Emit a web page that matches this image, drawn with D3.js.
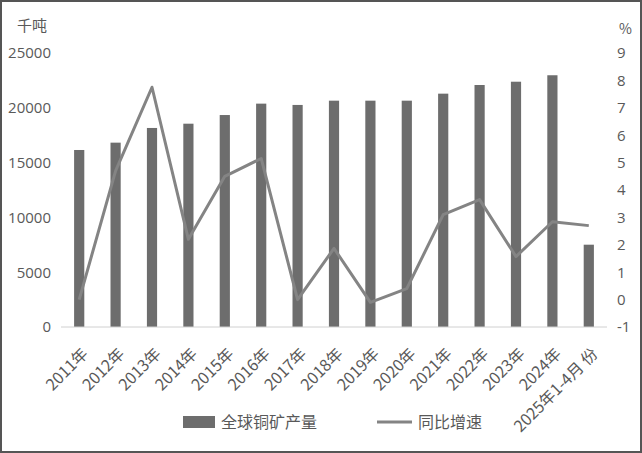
<!DOCTYPE html>
<html>
<head>
<meta charset="utf-8">
<script src="https://cdn.jsdelivr.net/npm/d3@7"></script>
<style>
  body { margin: 0; background: #fff; }
  svg text { font-family: "Noto Sans CJK SC", "Open Sans", sans-serif; fill: #595959; }
</style>
</head>
<body>
<div class="canvas"></div>
<script>
// Data
const categories = ['2011年', '2012年', '2013年', '2014年', '2015年', '2016年', '2017年', '2018年',
    '2019年', '2020年', '2021年', '2022年', '2023年', '2024年', '2025年1-4月 份'];
const output = [16150, 16820, 18160, 18550, 19340, 20380, 20260, 20650,
    20650, 20650, 21290, 22080, 22380, 22970, 7510];
const growth = [0.0, 4.7, 7.75, 2.2, 4.5, 5.15, 0.0, 1.87,
    -0.1, 0.4, 3.1, 3.65, 1.57, 2.84, 2.7];
const leftTicks = [0, 5000, 10000, 15000, 20000, 25000];
const rightTicks = [-1, 0, 1, 2, 3, 4, 5, 6, 7, 8, 9];

// Dimensions
const dims = { width: 642, height: 453 };
const plot = { left: 61, right: 607, top: 53, bottom: 327 };

const svg = d3.select('.canvas')
    .append('svg')
    .attr('width', dims.width)
    .attr('height', dims.height);

// Border
svg.append('rect')
    .attr('x', 1).attr('y', 1)
    .attr('width', dims.width - 2).attr('height', dims.height - 2)
    .attr('fill', '#fff')
    .attr('stroke', '#555').attr('stroke-width', 2);

// Scales
const x = d3.scaleBand()
    .domain(categories)
    .range([plot.left, plot.right])
    .paddingInner(0.72)
    .paddingOuter(0.36);

const yLeft = d3.scaleLinear()
    .domain([0, 25000])
    .range([plot.bottom, plot.top]);

const yRight = d3.scaleLinear()
    .domain([-1, 9])
    .range([plot.bottom, plot.top]);

// Left axis
const leftAxis = svg.append('g')
    .attr('transform', `translate(${plot.left - 10}, 0)`)
    .call(d3.axisLeft(yLeft).tickValues(leftTicks).tickSize(0).tickPadding(0).tickFormat(d3.format('d')));
leftAxis.select('.domain').remove();
leftAxis.selectAll('text').attr('font-size', 15).style('font-family', '"Open Sans", sans-serif');

// Right axis
const rightAxis = svg.append('g')
    .attr('transform', `translate(${plot.right + 10}, 0)`)
    .call(d3.axisRight(yRight).tickValues(rightTicks).tickSize(0).tickPadding(0).tickFormat(d => String(d)));
rightAxis.select('.domain').remove();
rightAxis.selectAll('text').attr('font-size', 15).style('font-family', '"Open Sans", sans-serif');

// Units
svg.append('text').attr('x', 17).attr('y', 31).attr('font-size', 15).text('千吨');
svg.append('text').attr('x', 619).attr('y', 34).attr('font-size', 14).text('%');

// Bars
svg.append('g')
    .selectAll('rect')
    .data(output)
    .enter()
    .append('rect')
        .attr('x', (d, i) => x(categories[i]))
        .attr('y', d => yLeft(d))
        .attr('width', x.bandwidth())
        .attr('height', d => yLeft(0) - yLeft(d))
        .attr('fill', '#6d6d6d');

// Baseline
svg.append('line')
    .attr('x1', plot.left).attr('x2', plot.right)
    .attr('y1', plot.bottom).attr('y2', plot.bottom)
    .attr('stroke', '#d0d0d0').attr('stroke-width', 1);

// Growth line
const line = d3.line()
    .x((d, i) => x(categories[i]) + x.bandwidth() / 2)
    .y(d => yRight(d));

svg.append('path')
    .datum(growth)
    .attr('d', line)
    .attr('fill', 'none')
    .attr('stroke', '#848484')
    .attr('stroke-width', 3)
    .attr('stroke-linejoin', 'round');

// X labels
svg.append('g')
    .selectAll('text')
    .data(categories)
    .enter()
    .append('text')
        .attr('transform', d => `translate(${x(d) + x.bandwidth() / 2 + 6}, ${plot.bottom + 24}) rotate(-45)`)
        .attr('text-anchor', 'end')
        .attr('dy', '0.35em')
        .attr('font-size', 16)
        .text(d => d);

// Legend
const legend = svg.append('g');
legend.append('rect')
    .attr('x', 183).attr('y', 416)
    .attr('width', 32).attr('height', 12)
    .attr('fill', '#6d6d6d');
legend.append('text')
    .attr('x', 221).attr('y', 428)
    .attr('font-size', 16)
    .text('全球铜矿产量');
legend.append('line')
    .attr('x1', 377).attr('x2', 412)
    .attr('y1', 422).attr('y2', 422)
    .attr('stroke', '#848484').attr('stroke-width', 3);
legend.append('text')
    .attr('x', 418).attr('y', 428)
    .attr('font-size', 16)
    .text('同比增速');
</script>
</body>
</html>
